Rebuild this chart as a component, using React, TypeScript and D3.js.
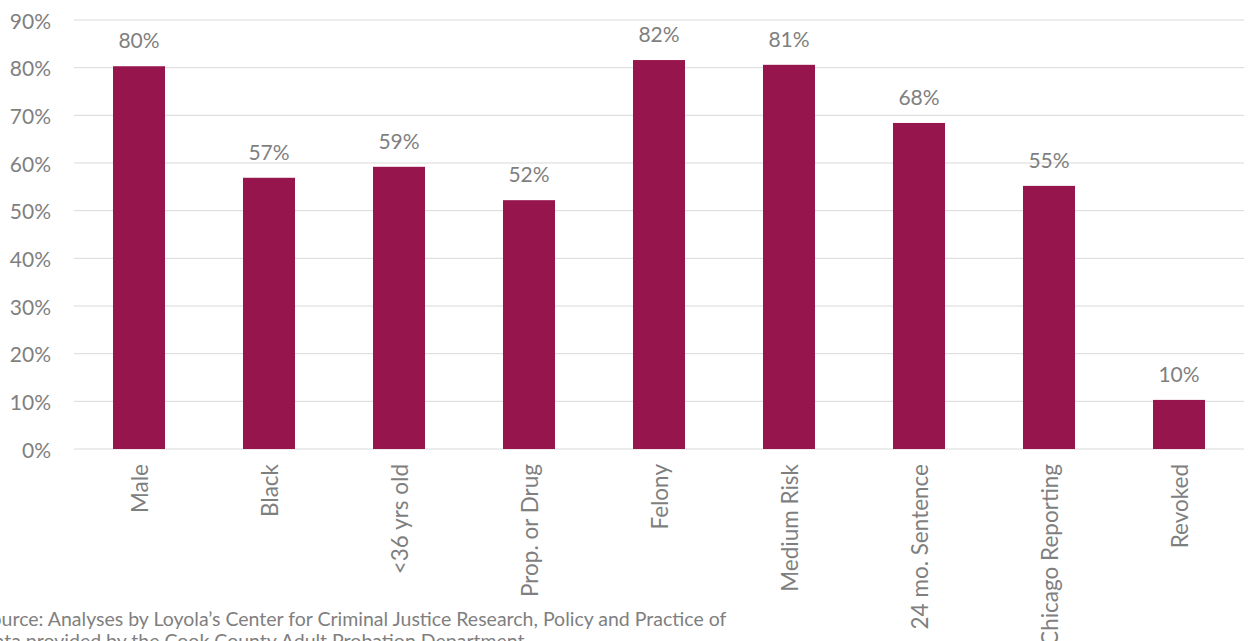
import React from "react";
import * as d3 from "d3";

const categories = ["Male", "Black", "<36 yrs old", "Prop. or Drug", "Felony", "Medium Risk", "24 mo. Sentence", "Chicago Reporting", "Revoked"];
const values = [80.3, 56.9, 59.2, 52.2, 81.6, 80.6, 68.4, 55.2, 10.3];
const labels = ["80%", "57%", "59%", "52%", "82%", "81%", "68%", "55%", "10%"];
const ticks = [0, 10, 20, 30, 40, 50, 60, 70, 80, 90];
const sourceLines = [
  "Source: Analyses by Loyola\u2019s Center for Criminal Justice Research, Policy and Practice of",
  "Data provided by the Cook County Adult Probation Department",
];

const W = 1249;
const H = 641;
const FONT = "Lato, 'Open Sans', sans-serif";

export default function App() {
  const x = d3.scaleBand<string>().domain(categories).range([74, 1244]).paddingInner(0.6).paddingOuter(0.3);
  const y = d3.scaleLinear().domain([0, 90]).range([449, 20]);
  const bw = x.bandwidth();
  return (
    <svg width={W} height={H} style={{ position: "absolute", left: 0, top: 0, overflow: "hidden", background: "#fff" }} fontFamily={FONT}>
      {ticks.map((t) => (
        <g key={t}>
          <line x1={74} x2={1244} y1={y(t)} y2={y(t)} stroke="#d9d9d9" strokeWidth={1} />
          <text x={51} y={y(t)} textAnchor="end" dominantBaseline="central" fontSize={21} fill="#7f7f7f">
            {t}%
          </text>
        </g>
      ))}
      {categories.map((c, i) => {
        const cx = (x(c) as number) + bw / 2;
        return (
          <g key={c}>
            <rect x={x(c)} y={y(values[i])} width={bw} height={y(0) - y(values[i])} fill="#97154d" />
            <text x={cx} y={y(values[i]) - 18} textAnchor="middle" fontSize={21} fill="#7f7f7f">
              {labels[i]}
            </text>
            <text
              transform={`translate(${cx},464) rotate(-90)`}
              textAnchor="end"
              dominantBaseline="central"
              fontSize={22.5}
              fill="#7f7f7f"
            >
              {c}
            </text>
          </g>
        );
      })}
      {sourceLines.map((s, i) => (
        <text key={i} x={-20} y={626 + i * 22} fontSize={19.5} fill="#7f7f7f">
          {s}
        </text>
      ))}
    </svg>
  );
}
